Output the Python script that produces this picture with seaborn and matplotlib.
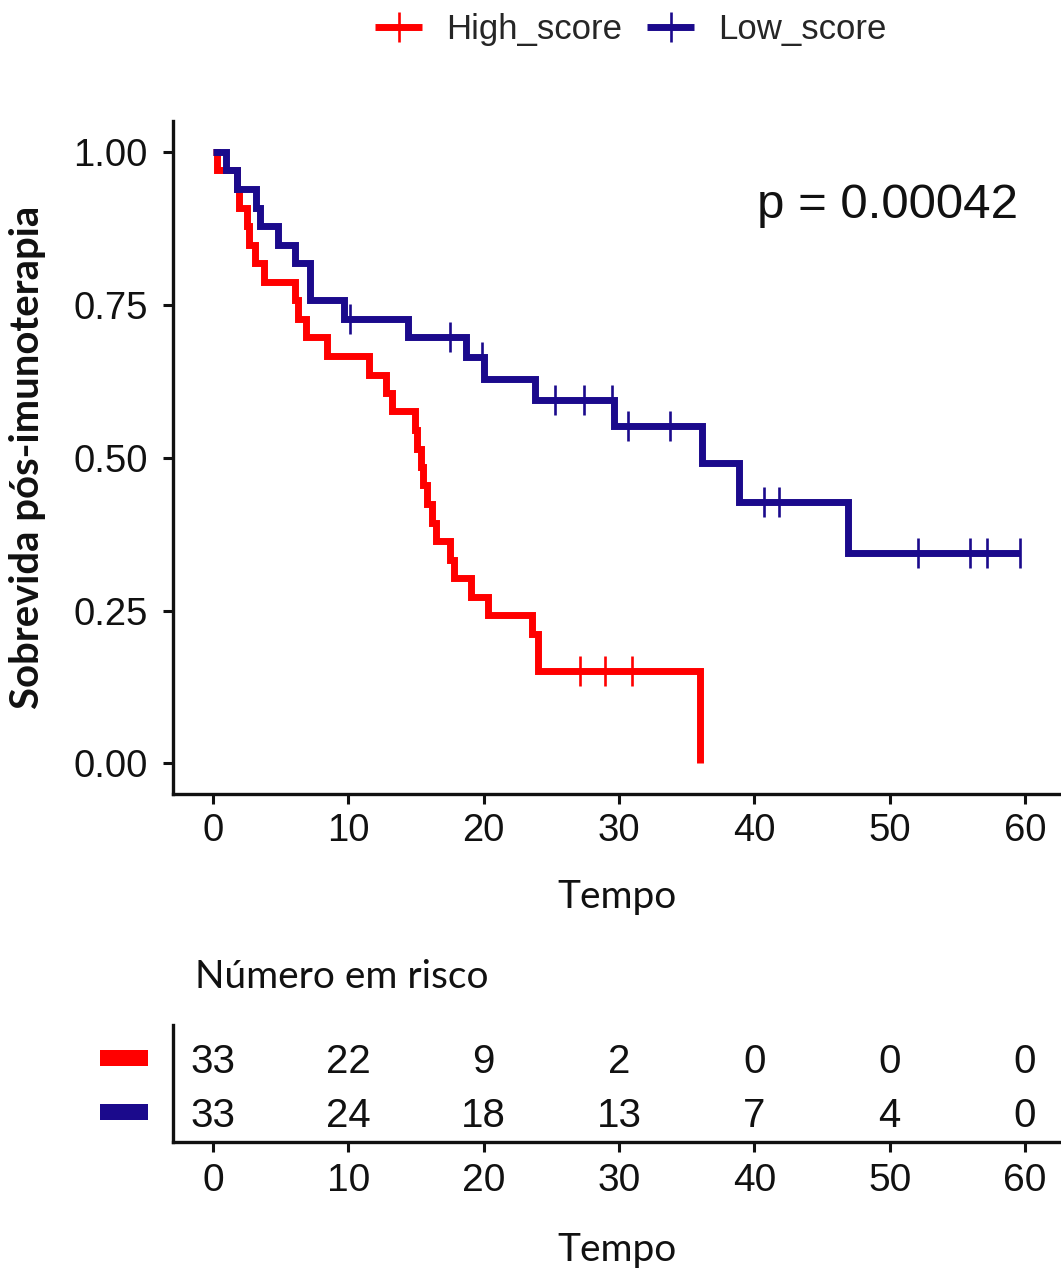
import matplotlib
matplotlib.use("Agg")
import matplotlib.pyplot as plt
import matplotlib.transforms as mtransforms
from matplotlib.lines import Line2D
from matplotlib.patches import Rectangle
import seaborn as sns
import pandas as pd

# ---------------- data ----------------
groups = ["High_score", "Low_score"]
colors = {"High_score": "#FF0000", "Low_score": "#1B0A8C"}

high_time = [0, 0.3, 1.8, 1.9, 2.5, 2.7, 3.1, 3.8, 6.1, 6.3, 6.9, 8.4, 11.5, 12.8,
             13.2, 14.9, 15.1, 15.4, 15.5, 15.8, 16.2, 16.5, 17.5, 17.8, 19.1, 20.3,
             23.6, 24.0, 36.0]
high_surv = [1.000, 0.970, 0.939, 0.909, 0.879, 0.848, 0.818, 0.788, 0.758, 0.727,
             0.697, 0.667, 0.636, 0.606, 0.576, 0.545, 0.515, 0.485, 0.455, 0.424,
             0.394, 0.364, 0.333, 0.303, 0.273, 0.242, 0.212, 0.152, 0.000]
high_cens_time = [27.1, 29.0, 31.0]
high_cens_surv = [0.152, 0.152, 0.152]

low_time = [0, 1.0, 1.8, 3.2, 3.5, 4.8, 6.1, 7.2, 9.7, 14.4, 18.7, 20.0, 23.8,
            29.6, 36.1, 38.9, 46.9, 59.6]
low_surv = [1.000, 0.970, 0.939, 0.909, 0.879, 0.848, 0.818, 0.758, 0.727, 0.697,
            0.664, 0.629, 0.594, 0.552, 0.491, 0.427, 0.344, 0.344]
low_cens_time = [10.1, 17.5, 19.9, 25.3, 27.4, 29.5, 30.7, 33.8, 40.7, 41.8,
                 52.1, 55.9, 57.2, 59.6]
low_cens_surv = [0.727, 0.697, 0.664, 0.594, 0.594, 0.594, 0.552, 0.552, 0.427,
                 0.427, 0.344, 0.344, 0.344, 0.344]

risk_times = [0, 10, 20, 30, 40, 50, 60]
risk_high = [33, 22, 9, 2, 0, 0, 0]
risk_low = [33, 24, 18, 13, 7, 4, 0]

x_ticks = [0, 10, 20, 30, 40, 50, 60]
y_ticks = [0.00, 0.25, 0.50, 0.75, 1.00]
y_ticklabels = ["0.00", "0.25", "0.50", "0.75", "1.00"]
p_text = "p = 0.00042"

# ---------------- styling ----------------
sns.set_theme(style="ticks")
plt.rcParams["font.family"] = ["Liberation Sans", "DejaVu Sans"]
TXT_FONT = ["Lato", "DejaVu Sans"]
INK = "#111111"

W, H = 1061, 1270
fig = plt.figure(figsize=(W / 100, H / 100), dpi=100)

XLIM = (-2.95, 62.66)

# ---------------- survival panel ----------------
ax = fig.add_axes([173 / W, (H - 794) / H, 888 / W, (794 - 121.5) / H])

curves = pd.concat([
    pd.DataFrame({"time": high_time, "surv": high_surv, "group": "High_score"}),
    pd.DataFrame({"time": low_time, "surv": low_surv, "group": "Low_score"}),
], ignore_index=True)
cens = pd.concat([
    pd.DataFrame({"time": high_cens_time, "surv": high_cens_surv, "group": "High_score"}),
    pd.DataFrame({"time": low_cens_time, "surv": low_cens_surv, "group": "Low_score"}),
], ignore_index=True)

sns.lineplot(data=curves, x="time", y="surv", hue="group", hue_order=groups,
             palette=colors, estimator=None, sort=False, drawstyle="steps-post",
             linewidth=5.0, legend=False, ax=ax, solid_joinstyle="miter",
             solid_capstyle="butt")
for g in groups:
    sub = cens[cens.group == g]
    ax.plot(sub["time"], sub["surv"], ls="none", marker="|", markersize=21,
            markeredgewidth=1.9, color=colors[g])

ax.set_xlim(*XLIM)
ax.set_ylim(-0.05, 1.05)
ax.set_xticks(x_ticks)
ax.set_xticklabels([str(v) for v in x_ticks])
ax.set_yticks(y_ticks)
ax.set_yticklabels(y_ticklabels)
ax.tick_params(axis="both", length=7, width=2.2, colors=INK, labelsize=27.5)
ax.tick_params(axis="y", pad=11)
ax.tick_params(axis="x", pad=6.5)
for s in ["top", "right"]:
    ax.spines[s].set_visible(False)
for s in ["left", "bottom"]:
    ax.spines[s].set_linewidth(2.4)
    ax.spines[s].set_color(INK)

ax.set_xlabel("Tempo", fontfamily=TXT_FONT, fontsize=28, color=INK)
ax.xaxis.label.set_va("center")
ax.xaxis.set_label_coords(0.5, (794 - 897) / (794 - 121.5))
ax.set_ylabel("Sobrevida pós-imunoterapia", fontfamily=TXT_FONT, fontweight="bold",
              fontsize=28.8, color=INK)
ax.yaxis.label.set_va("center")
ax.yaxis.set_label_coords((28 - 173) / 888, 0.5)

ax.text(40.2, 0.913, p_text, fontsize=35.5, ha="left", va="center", color=INK)

handles = [Line2D([], [], color=colors[g], lw=5, marker="|", markersize=21,
                  markeredgewidth=1.9, solid_capstyle="butt") for g in groups]
fig.legend(handles, groups, loc="center", bbox_to_anchor=(631 / W, 1 - 30 / H),
           ncol=2, frameon=False, fontsize=25, handlelength=1.35,
           handletextpad=0.69, columnspacing=0.72)

# ---------------- risk table ----------------
axr = fig.add_axes([173 / W, (H - 1142) / H, 888 / W, (1142 - 1025) / H])
axr.set_xlim(*XLIM)
axr.set_ylim(0.444, 2.61)
row_y = {"High_score": 2, "Low_score": 1}
for t, n in zip(risk_times, risk_high):
    axr.text(t, row_y["High_score"], str(n), ha="center", va="center_baseline",
             fontsize=29, color=INK)
for t, n in zip(risk_times, risk_low):
    axr.text(t, row_y["Low_score"], str(n), ha="center", va="center_baseline",
             fontsize=29, color=INK)

axr.set_xticks(x_ticks)
axr.set_xticklabels([str(v) for v in x_ticks])
axr.set_yticks([])
axr.tick_params(axis="x", length=7, width=2.2, colors=INK, labelsize=28, pad=8)
for s in ["top", "right"]:
    axr.spines[s].set_visible(False)
for s in ["left", "bottom"]:
    axr.spines[s].set_linewidth(2.4)
    axr.spines[s].set_color(INK)

trans = mtransforms.blended_transform_factory(axr.transAxes, axr.transData)
for g in groups:
    axr.add_patch(Rectangle(((100 - 173) / 888, row_y[g] - 0.15), 48 / 888, 0.30,
                            transform=trans, clip_on=False, color=colors[g], lw=0))

axr.set_xlabel("Tempo", fontfamily=TXT_FONT, fontsize=28, color=INK)
axr.xaxis.label.set_va("center")
axr.xaxis.set_label_coords(0.5, (1142 - 1250) / (1142 - 1025))
axr.text((195 - 173) / 888, (1142 - 977) / (1142 - 1025), "Número em risco",
         transform=axr.transAxes, ha="left", va="center", fontfamily=TXT_FONT,
         fontsize=28, color=INK)

fig.savefig("out.png", dpi=100, facecolor="white")
